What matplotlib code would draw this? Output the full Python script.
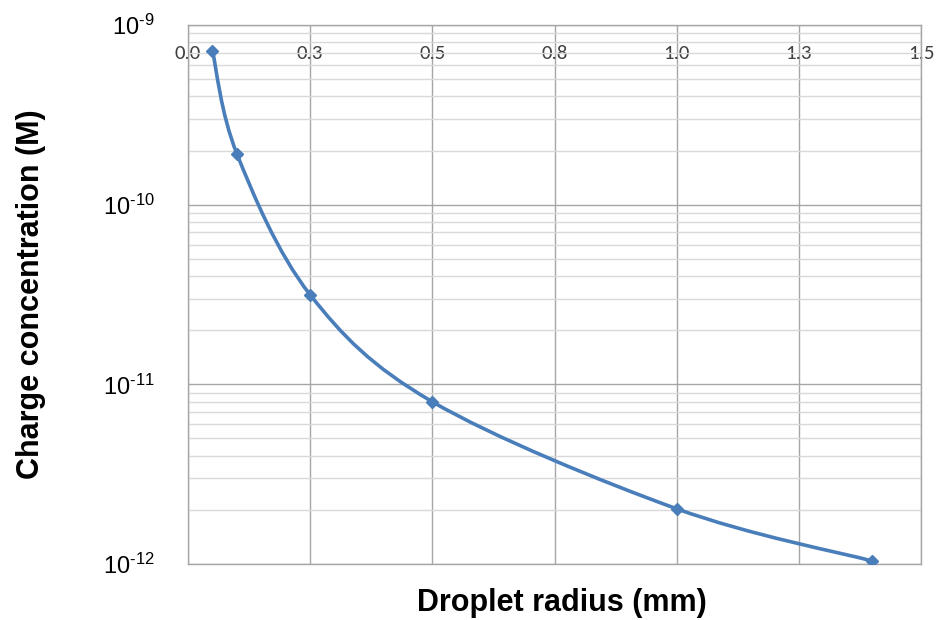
import numpy as np
import matplotlib
matplotlib.use('Agg')
import matplotlib.pyplot as plt
from matplotlib.path import Path
from matplotlib.patches import PathPatch
from matplotlib.ticker import FixedLocator, LogLocator, NullFormatter

plt.rcParams['font.family'] = ['Liberation Sans', 'DejaVu Sans']
plt.rcParams['mathtext.fontset'] = 'custom'
plt.rcParams['mathtext.rm'] = 'Liberation Sans'
plt.rcParams['mathtext.it'] = 'Liberation Sans'

# data
radius_mm = [0.05, 0.1, 0.25, 0.5, 1.0, 1.4]
charge_M = [7.2e-10, 1.92e-10, 3.15e-11, 8.0e-12, 2.03e-12, 1.04e-12]

x_ticks = [0.0, 0.25, 0.5, 0.75, 1.0, 1.25, 1.5]
x_tick_labels = ['0.0', '0.3', '0.5', '0.8', '1.0', '1.3', '1.5']
y_ticks = [1e-12, 1e-11, 1e-10, 1e-9]
y_tick_labels = [r'10$^{\text{-12}}$', r'10$^{\text{-11}}$',
                 r'10$^{\text{-10}}$', r'10$^{\text{-9}}$']

line_col = '#4a7ebb'

fig = plt.figure(figsize=(9.4, 6.2), dpi=100)
ax = fig.add_axes([0.2, 0.0903, 0.7798, 0.8694])
ax.set_yscale('log')
ax.set_xlim(0, 1.5)
ax.set_ylim(1e-12, 1e-9)

# smoothed line (excel style) - bezier through the points in screen-like space
xs = np.array(radius_mm)
ys = np.array(charge_M)
u = xs / 1.5 * 733.0
v = np.log10(ys) * 180.0
pts = np.column_stack([u, v])
n = len(pts)
verts = [pts[0]]
codes = [Path.MOVETO]
for i in range(n - 1):
    p0 = pts[max(i - 1, 0)]
    p1 = pts[i]
    p2 = pts[i + 1]
    p3 = pts[min(i + 2, n - 1)]
    c1 = p1 + (p2 - p0) / 6.0
    c2 = p2 - (p3 - p1) / 6.0
    verts += [c1, c2, p2]
    codes += [Path.CURVE4] * 3
verts = np.array(verts)
verts_data = np.column_stack([verts[:, 0] / 733.0 * 1.5, 10 ** (verts[:, 1] / 180.0)])
curve = PathPatch(Path(verts_data, codes), facecolor='none', edgecolor=line_col,
                  lw=2.6, zorder=3, capstyle='round')
ax.add_patch(curve)
ax.plot(radius_mm, charge_M, linestyle='none', marker='D', ms=6.5,
        color=line_col, zorder=4)

# grid
ax.xaxis.set_major_locator(FixedLocator(x_ticks))
ax.yaxis.set_major_locator(FixedLocator(y_ticks))
ax.yaxis.set_minor_locator(LogLocator(base=10, subs=np.arange(2, 10)))
ax.yaxis.set_minor_formatter(NullFormatter())
ax.grid(True, which='major', axis='both', color='#a6a6a6', lw=1.0)
ax.grid(True, which='minor', axis='y', color='#d9d9d9', lw=1.0)
ax.set_axisbelow(True)
for s in ax.spines.values():
    s.set_color('#a6a6a6')
    s.set_linewidth(1.0)

# x tick labels sit inside the plot under the top edge
ax.xaxis.tick_top()
ax.set_xticklabels(x_tick_labels, fontsize=15, color='#404040',
                   family=['Carlito', 'Liberation Sans', 'DejaVu Sans'])
ax.tick_params(axis='x', length=0, pad=-27)
ax.set_yticklabels(y_tick_labels, fontsize=17, color='black')
ax.tick_params(axis='y', which='both', length=0, pad=24)

fig.text(0.598, 0.027, 'Droplet radius (mm)', ha='center', va='center',
         fontsize=22, fontweight='bold')
fig.text(0.033, 0.525, 'Charge concentration (M)', ha='center', va='center',
         rotation=90, fontsize=22, fontweight='bold')

fig.savefig('out.png', dpi=100)
